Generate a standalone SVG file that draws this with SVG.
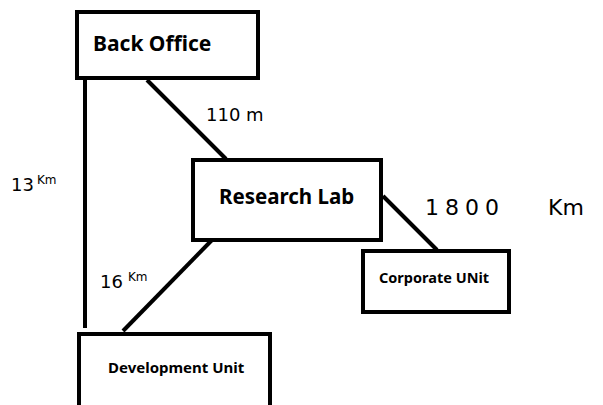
<svg xmlns="http://www.w3.org/2000/svg" width="603" height="405" viewBox="0 0 603 405">
<style>
.box{fill:#fff;stroke:#000;stroke-width:4}
.lbl{font-family:"Noto Sans","Open Sans","Liberation Sans",sans-serif;font-weight:bold;fill:#000}
.edge{stroke:#000;stroke-width:4;fill:none}
.hand{font-family:"DejaVu Sans","Liberation Sans",sans-serif;font-weight:normal;fill:#000}
</style>
<rect width="603" height="405" fill="#fff"/>
<g id="connectors">
<line class="edge" x1="85" y1="79" x2="85" y2="328"/>
<line class="edge" x1="147" y1="80" x2="226" y2="159"/>
<line class="edge" x1="383" y1="196" x2="437" y2="250"/>
<line class="edge" x1="212" y1="240" x2="123" y2="331"/>
<text class="hand" x="206" y="121" font-size="18">110 m</text>
<text class="hand" x="11" y="191" font-size="18">13<tspan font-size="12" dy="-7" dx="3">Km</tspan></text>
<text class="hand" x="100" y="288" font-size="18">16<tspan font-size="12" dy="-7" dx="5">Km</tspan></text>
<text class="hand" x="425" y="215" font-size="22" letter-spacing="6">1800</text>
<text class="hand" x="548" y="215" font-size="22">Km</text>
</g>
<g id="back-office">
<rect class="box" x="77" y="12" width="181" height="66"/>
<text class="lbl" x="93" y="51" font-size="21">Back Office</text>
</g>
<g id="research-lab">
<rect class="box" x="193" y="160" width="188" height="80"/>
<text class="lbl" x="219" y="204" font-size="20.5">Research Lab</text>
</g>
<g id="corporate-unit">
<rect class="box" x="363" y="251" width="146" height="61"/>
<text class="lbl" x="379" y="283" font-size="14.5">Corporate UNit</text>
</g>
<g id="development-unit">
<rect class="box" x="79" y="334" width="191" height="80"/>
<text class="lbl" x="108" y="373" font-size="15">Development Unit</text>
</g>
</svg>
